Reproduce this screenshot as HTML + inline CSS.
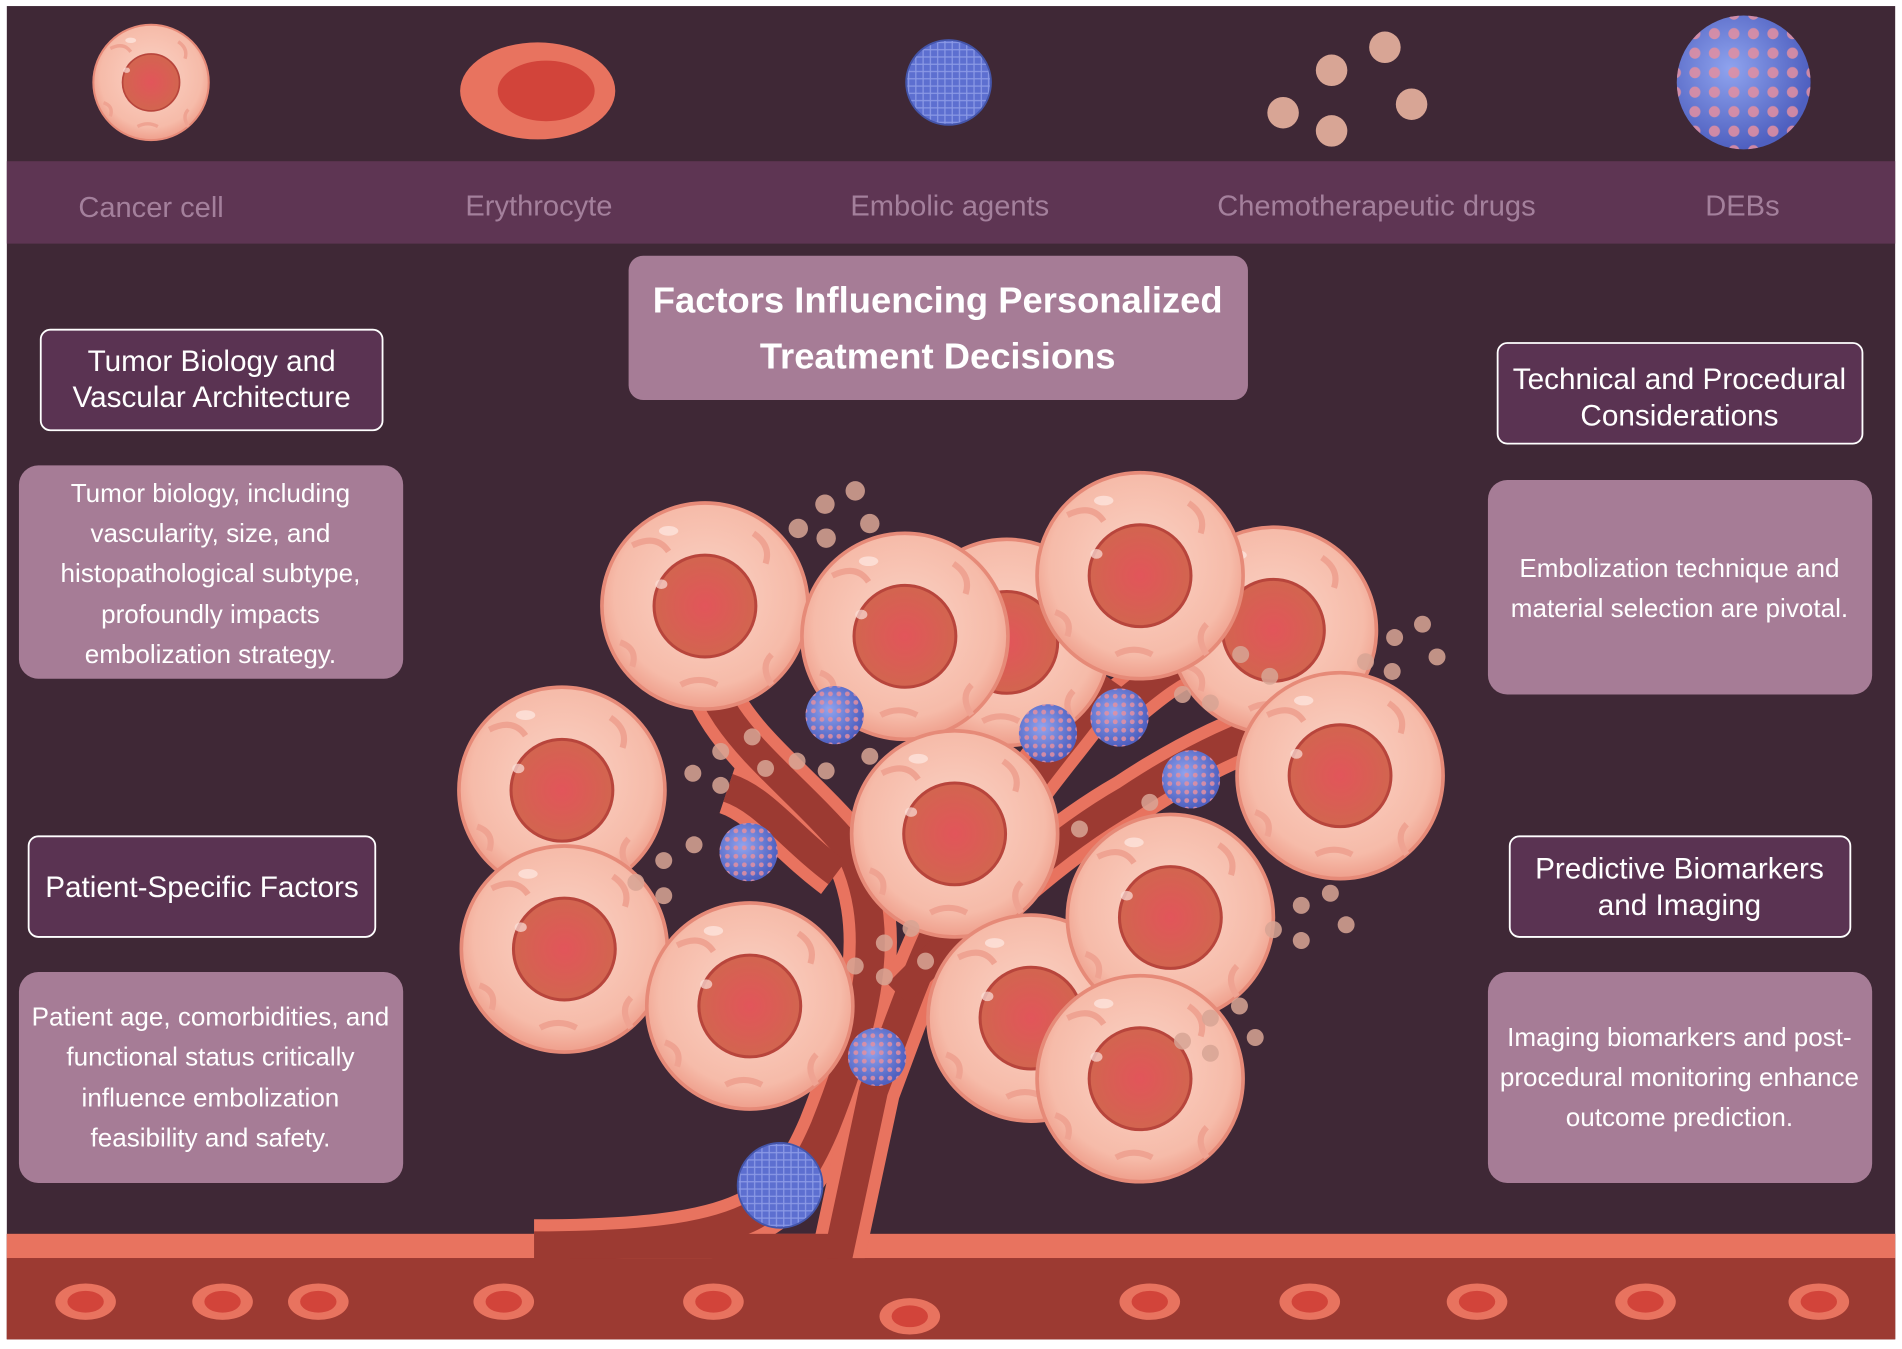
<!DOCTYPE html>
<html><head><meta charset="utf-8"><style>
html,body{margin:0;padding:0;background:#fff;}
svg{display:block;}
text{font-family:"Liberation Sans",sans-serif;}
</style></head><body>
<svg width="1902" height="1349" viewBox="0 0 1568 1113" xmlns="http://www.w3.org/2000/svg">
<defs>
<radialGradient id="cell" cx="50%" cy="45%" r="55%"><stop offset="0" stop-color="#fbd3c6"/><stop offset="0.8" stop-color="#f6bba9"/><stop offset="1" stop-color="#ef9f8c"/></radialGradient>
<radialGradient id="nuc" cx="50%" cy="50%" r="50%"><stop offset="0" stop-color="#e2555a"/><stop offset="1" stop-color="#d2654f"/></radialGradient>
<radialGradient id="deb" cx="40%" cy="40%" r="60%"><stop offset="0" stop-color="#8fa3ee"/><stop offset="1" stop-color="#4f60c0"/></radialGradient>
<pattern id="dots" width="7" height="7" patternUnits="userSpaceOnUse"><circle cx="3.5" cy="3.5" r="2" fill="#e48fa0"/></pattern>
<pattern id="mesh" width="6" height="6" patternUnits="userSpaceOnUse"><path d="M0 3H6M3 0V6" stroke="#8b9ae6" stroke-width="1"/></pattern>
<g id="C"><circle r="85" fill="url(#cell)" stroke="#e68a78" stroke-width="3"/><path d="M-60 -50 q20 -10 30 5 M40 -60 q15 10 10 25 M-70 30 q15 5 10 20 M55 40 q-10 10 0 25 M-20 65 q15 -8 30 0" stroke="#efa392" stroke-width="5" fill="none"/><circle r="42" fill="url(#nuc)" stroke="#b8453c" stroke-width="2.5"/><ellipse cx="-36" cy="-18" rx="5" ry="4" fill="#fbe0d8" opacity=".7"/><ellipse cx="-30" cy="-62" rx="8" ry="4" fill="#fde4dc" opacity=".8"/></g>
<g id="D"><circle r="24" fill="url(#deb)"/><circle r="24" fill="url(#dots)" opacity=".85"/></g>
<g id="E"><circle r="35" fill="#5d6fd0"/><circle r="35" fill="url(#mesh)"/><circle r="35" fill="none" stroke="#4455aa" stroke-width="1.5"/></g>
</defs>
<rect width="1568" height="1113" fill="#fff"/>
<rect x="5" y="5" width="1558" height="1100" fill="#3f2836"/>
<rect x="5" y="133" width="1558" height="68" fill="#5e3553"/>
<g font-size="24" fill="#a4809c" text-anchor="middle">
<text x="124" y="179">Cancer cell</text><text x="444" y="178">Erythrocyte</text><text x="783" y="178">Embolic agents</text><text x="1135" y="178">Chemotherapeutic drugs</text><text x="1437" y="178">DEBs</text></g>
<g transform="translate(124,68) scale(0.56)"><use href="#C"/></g>
<ellipse cx="443" cy="75" rx="64" ry="40" fill="#e8735f"/><ellipse cx="450" cy="75" rx="40" ry="25" fill="#d2443a"/>
<use href="#E" x="782" y="68"/>
<g fill="#d8a595"><circle cx="1098" cy="58" r="13"/><circle cx="1142" cy="39" r="13"/><circle cx="1058" cy="93" r="13"/><circle cx="1164" cy="86" r="13"/><circle cx="1098" cy="108" r="13"/></g>
<g transform="translate(1438,68) scale(2.3)"><use href="#D"/></g>
<rect x="5" y="1018" width="1558" height="87" fill="#9c3a32"/>
<rect x="5" y="1018" width="1558" height="20" fill="#e8735f"/>
<g fill="none" stroke-linecap="butt">
<g stroke="#e8735f" stroke-width="44">
<path d="M440 1028 C620 1028 650 1000 680 930 C720 830 730 760 700 700 C640 630 580 600 575 520"/>
<path d="M690 1040 L720 900 C750 820 770 760 800 720 C840 650 880 610 915 560"/>
<path d="M740 820 C800 760 860 700 930 660 C990 620 1040 600 1080 590"/>
<path d="M915 590 C940 570 960 550 990 540"/>
<path d="M690 720 C650 690 630 660 600 650"/>
</g>
<g stroke="#9c3a32" stroke-width="24">
<path d="M440 1028 C620 1028 650 1000 680 930 C720 830 730 760 700 700 C640 630 580 600 575 520"/>
<path d="M690 1040 L720 900 C750 820 770 760 800 720 C840 650 880 610 915 560"/>
<path d="M740 820 C800 760 860 700 930 660 C990 620 1040 600 1080 590"/>
<path d="M915 590 C940 570 960 550 990 540"/>
<path d="M690 720 C650 690 630 660 600 650"/>
</g></g>
<rect x="5" y="1038" width="1558" height="67" fill="#9c3a32"/>
<rect x="470" y="1018" width="220" height="20" fill="#9c3a32"/>
<g fill="#e8735f">
<ellipse cx="70" cy="1074" rx="25" ry="15"/><ellipse cx="183" cy="1074" rx="25" ry="15"/><ellipse cx="262" cy="1074" rx="25" ry="15"/><ellipse cx="415" cy="1074" rx="25" ry="15"/><ellipse cx="588" cy="1074" rx="25" ry="15"/><ellipse cx="750" cy="1086" rx="25" ry="15"/><ellipse cx="948" cy="1074" rx="25" ry="15"/><ellipse cx="1080" cy="1074" rx="25" ry="15"/><ellipse cx="1218" cy="1074" rx="25" ry="15"/><ellipse cx="1357" cy="1074" rx="25" ry="15"/><ellipse cx="1500" cy="1074" rx="25" ry="15"/></g>
<g fill="#d2443a">
<ellipse cx="70" cy="1074" rx="15" ry="9"/><ellipse cx="183" cy="1074" rx="15" ry="9"/><ellipse cx="262" cy="1074" rx="15" ry="9"/><ellipse cx="415" cy="1074" rx="15" ry="9"/><ellipse cx="588" cy="1074" rx="15" ry="9"/><ellipse cx="750" cy="1086" rx="15" ry="9"/><ellipse cx="948" cy="1074" rx="15" ry="9"/><ellipse cx="1080" cy="1074" rx="15" ry="9"/><ellipse cx="1218" cy="1074" rx="15" ry="9"/><ellipse cx="1357" cy="1074" rx="15" ry="9"/><ellipse cx="1500" cy="1074" rx="15" ry="9"/></g>
<use href="#C" x="830" y="530"/>
<use href="#C" x="1050" y="520"/>
<use href="#C" x="581" y="500"/>
<use href="#C" x="746" y="525"/>
<use href="#C" x="940" y="475"/>
<use href="#C" x="1105" y="640"/>
<use href="#C" x="463" y="652"/>
<use href="#C" x="787" y="688"/>
<use href="#C" x="465" y="783"/>
<use href="#C" x="850" y="840"/>
<use href="#C" x="965" y="757"/>
<use href="#C" x="618" y="830"/>
<use href="#C" x="940" y="890"/>
<g fill="#d8a595" opacity=".85">
<circle cx="680" cy="416" r="8"/><circle cx="705" cy="405" r="8"/><circle cx="658" cy="436" r="8"/><circle cx="681" cy="444" r="8"/><circle cx="717" cy="432" r="8"/>
<circle cx="620" cy="608" r="7"/><circle cx="594" cy="620" r="7"/><circle cx="571" cy="638" r="7"/><circle cx="594" cy="648" r="7"/><circle cx="631" cy="634" r="7"/><circle cx="657" cy="628" r="7"/><circle cx="681" cy="636" r="7"/><circle cx="717" cy="624" r="7"/>
<circle cx="547" cy="710" r="7"/><circle cx="572" cy="697" r="7"/><circle cx="524" cy="728" r="7"/><circle cx="547" cy="739" r="7"/>
<circle cx="729" cy="778" r="7"/><circle cx="751" cy="766" r="7"/><circle cx="705" cy="797" r="7"/><circle cx="729" cy="806" r="7"/><circle cx="763" cy="793" r="7"/>
<circle cx="890" cy="684" r="7"/><circle cx="948" cy="662" r="7"/><circle cx="975" cy="573" r="7"/><circle cx="998" cy="580" r="7"/><circle cx="1023" cy="540" r="7"/><circle cx="1047" cy="558" r="7"/>
<circle cx="1150" cy="526" r="7"/><circle cx="1173" cy="515" r="7"/><circle cx="1185" cy="542" r="7"/><circle cx="1148" cy="554" r="7"/><circle cx="1126" cy="546" r="7"/>
<circle cx="1073" cy="747" r="7"/><circle cx="1097" cy="737" r="7"/><circle cx="1050" cy="767" r="7"/><circle cx="1073" cy="776" r="7"/><circle cx="1110" cy="763" r="7"/>
<circle cx="998" cy="840" r="7"/><circle cx="1022" cy="830" r="7"/><circle cx="975" cy="859" r="7"/><circle cx="998" cy="869" r="7"/><circle cx="1035" cy="856" r="7"/></g>
<use href="#D" x="688" y="590"/><use href="#D" x="617" y="703"/><use href="#D" x="864" y="605"/><use href="#D" x="923" y="592"/><use href="#D" x="982" y="643"/><use href="#D" x="723" y="872"/>
<use href="#E" x="643" y="978"/>
<rect x="518" y="211" width="511" height="119" rx="12" fill="#a67c96"/>
<g font-size="30" font-weight="bold" fill="#fff" text-anchor="middle"><text x="773" y="258">Factors Influencing Personalized</text><text x="773" y="304">Treatment Decisions</text></g>
<g fill="#5a3352" stroke="#fff" stroke-width="1.5">
<rect x="33" y="272" width="282" height="83" rx="8"/><rect x="23" y="690" width="286" height="83" rx="8"/>
<rect x="1235" y="283" width="301" height="83" rx="8"/><rect x="1245" y="690" width="281" height="83" rx="8"/></g>
<g fill="#a67c96"><rect x="15" y="384" width="317" height="176" rx="16"/><rect x="15" y="802" width="317" height="174" rx="16"/><rect x="1227" y="396" width="317" height="177" rx="16"/><rect x="1227" y="802" width="317" height="174" rx="16"/></g>
<g font-size="24.5" fill="#fff" text-anchor="middle">
<text x="174" y="306">Tumor Biology and</text><text x="174" y="336">Vascular Architecture</text>
<text x="166" y="740">Patient-Specific Factors</text>
<text x="1385" y="321">Technical and Procedural</text><text x="1385" y="351">Considerations</text>
<text x="1385" y="725">Predictive Biomarkers</text><text x="1385" y="755">and Imaging</text></g>
<g font-size="21.5" fill="#fff" text-anchor="middle">
<text x="173" y="414">Tumor biology, including</text><text x="173" y="447">vascularity, size, and</text><text x="173" y="480">histopathological subtype,</text><text x="173" y="514">profoundly impacts</text><text x="173" y="547">embolization strategy.</text>
<text x="173" y="846">Patient age, comorbidities, and</text><text x="173" y="879">functional status critically</text><text x="173" y="913">influence embolization</text><text x="173" y="946">feasibility and safety.</text>
<text x="1385" y="476">Embolization technique and</text><text x="1385" y="509">material selection are pivotal.</text>
<text x="1385" y="863">Imaging biomarkers and post-</text><text x="1385" y="896">procedural monitoring enhance</text><text x="1385" y="929">outcome prediction.</text></g>
</svg>
</body></html>
